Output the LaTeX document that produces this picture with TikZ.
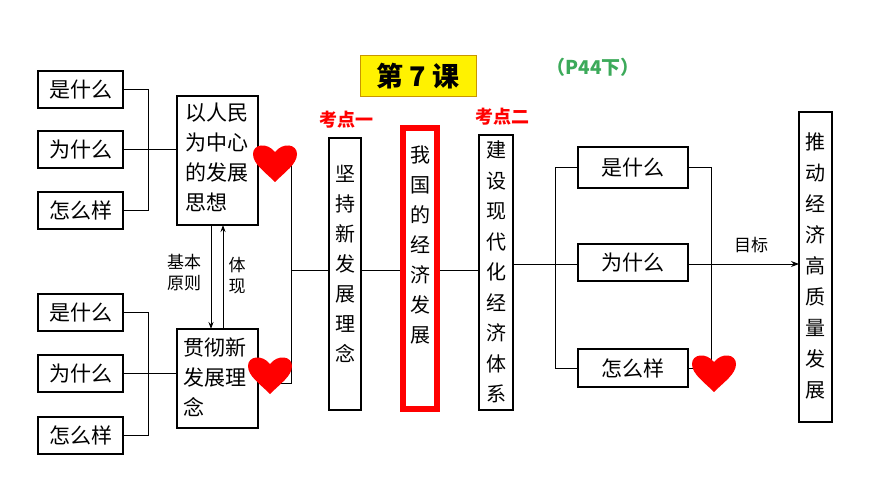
\documentclass[tikz,border=0pt]{standalone}
\usepackage{fontspec}
\setmainfont{Noto Sans CJK SC}
\usetikzlibrary{arrows.meta}
\begin{document}
\begin{tikzpicture}[x=1pt,y=-1pt,
  box/.style={draw,line width=1.3pt,inner sep=0pt},
  ln/.style={line width=1pt},
  txt/.style={font=\fontsize{21}{23}\selectfont},
  vtxt/.style={font=\fontsize{20}{27}\selectfont,align=center},
  heart/.style={fill=red,draw=none}]
\useasboundingbox (0,0) rectangle (870,489);
\newcommand{\heartat}[2]{\fill[red] (#1,#2+22) .. controls (#1-10,#2+12) and (#1-22,#2+4) .. (#1-22,#2-6) .. controls (#1-22,#2-16) and (#1-8,#2-18) .. (#1,#2-8) .. controls (#1+8,#2-18) and (#1+22,#2-16) .. (#1+22,#2-6) .. controls (#1+22,#2+4) and (#1+10,#2+12) .. (#1,#2+22) -- cycle;}
% left boxes
\foreach \n/\t/\y in {a1/是什么/71,a2/为什么/131,a3/怎么样/192,b1/是什么/294,b2/为什么/355,b3/怎么样/417}{
  \draw[box] (38,\y) rectangle (123,\y+37);
  \node[txt] (\n) at (80.5,\y+18.5) {\t};}
\draw[ln] (123,89.5) -- (148,89.5) -- (148,210.5) -- (123,210.5);
\draw[ln] (123,149.5) -- (177,149.5);
\draw[ln] (123,312.5) -- (148,312.5) -- (148,435.5) -- (123,435.5);
\draw[ln] (123,373.5) -- (177,373.5);
% main left boxes
\draw[box] (177,96) rectangle (258,225);
\node[txt,align=left,anchor=north west,font=\fontsize{21}{30}\selectfont] (p) at (182,99) {以人民\\为中心\\的发展\\思想};
\draw[box] (177,329) rectangle (258,428);
\node[txt,align=left,anchor=north west,font=\fontsize{21}{30}\selectfont] (q) at (180,334) {贯彻新\\发展理\\念};
\draw[ln,-{Stealth[length=7pt,width=5pt]}] (211,225) -- (211,329);
\draw[ln,-{Stealth[length=7pt,width=5pt]}] (223,329) -- (223,225);
\node[font=\fontsize{17}{21}\selectfont,align=center] (jb) at (184,273) {基本\\原则};
\node[font=\fontsize{17}{21}\selectfont,align=center] (tx) at (237,276) {体\\现};
% connector
\draw[ln] (285,165) -- (291,165) -- (291,383) -- (258,383);
\draw[ln] (291,270) -- (329,270);
\heartat{275}{160}
\heartat{270}{372}
% vertical boxes
\draw[box] (329,138) rectangle (361,410);
\node[vtxt,font=\fontsize{20}{30}\selectfont] (c) at (345,264) {坚\\持\\新\\发\\展\\理\\念};
\draw[ln] (361,270) -- (400,270);
\draw[red,line width=6pt] (403,128) rectangle (437,409);
\node[vtxt,font=\fontsize{20}{30}\selectfont] (d) at (420,245) {我\\国\\的\\经\\济\\发\\展};
\draw[ln] (440,270) -- (479,270);
\draw[box] (479,135) rectangle (513,410);
\node[vtxt,font=\fontsize{20}{30.5}\selectfont] (e) at (496,272) {建\\设\\现\\代\\化\\经\\济\\体\\系};
\node[red,font=\bfseries\fontsize{18}{20}\selectfont] (k1) at (346,120) {考点一};
\node[red,font=\bfseries\fontsize{18}{20}\selectfont] (k2) at (502,117) {考点二};
% right side
\draw[ln] (513,264) -- (578,264);
\draw[ln] (578,168) -- (555,168) -- (555,368) -- (578,368);
\foreach \n/\t/\ya/\yb in {r1/是什么/147/188,r2/为什么/244/281,r3/怎么样/349/387}{
  \draw[box] (578,\ya) rectangle (688,\yb);
  \node[txt] (\n) at (633,{(\ya+\yb)/2}) {\t};}
\draw[ln] (688,168) -- (711,168) -- (711,360);
\draw[ln] (688,368) -- (700,368);
\heartat{714}{370}
\draw[ln,-{Stealth[length=8pt,width=6pt]}] (688,264) -- (799,264);
\node[font=\fontsize{17}{20}\selectfont] (mb) at (751,245) {目标};
\draw[box] (799,112) rectangle (832,422);
\node[vtxt,font=\fontsize{20}{31}\selectfont] (f) at (815.5,266) {推\\动\\经\\济\\高\\质\\量\\发\\展};
% title
\draw[fill=yellow,draw={rgb,255:red,200;green,150;blue,0},line width=1pt] (360,56) rectangle (476,97);
\node[font=\bfseries\fontsize{27}{30}\selectfont] (t) at (418,76.5) {第 7 课};
\node[text={rgb,255:red,60;green,170;blue,90},font=\bfseries\fontsize{19}{20}\selectfont] (pg) at (593,67) {（P44下）};
\end{tikzpicture}
\end{document}
